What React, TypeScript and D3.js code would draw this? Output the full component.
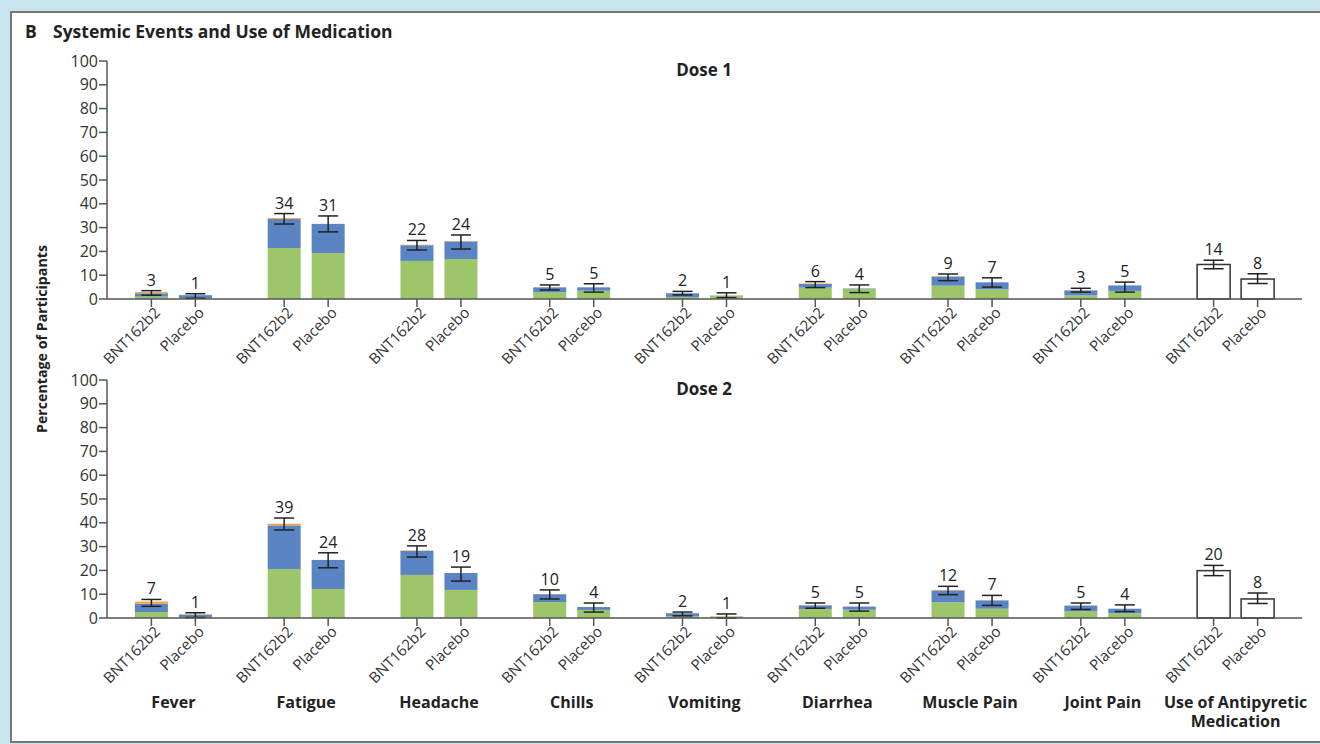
import React from "react";
import * as d3 from "d3";

const categories = ["Fever", "Fatigue", "Headache", "Chills", "Vomiting", "Diarrhea", "Muscle Pain", "Joint Pain", "Use of Antipyretic Medication"];
const arms = ["BNT162b2", "Placebo"];
const yTicks = [0, 10, 20, 30, 40, 50, 60, 70, 80, 90, 100];

// Dose 1 — symptom categories (first 8)
const d1BntMild = [1.0, 21.4, 16.0, 2.8, 0.8, 4.8, 5.6, 1.5];
const d1BntModerate = [1.4, 12.2, 6.6, 2.1, 1.6, 1.5, 3.8, 2.1];
const d1BntSevere = [0.5, 0.4, 0.2, 0.1, 0, 0.2, 0.2, 0.1];
const d1BntLow = [1.6, 31.5, 20.6, 3.8, 1.7, 4.8, 7.7, 2.9];
const d1BntHigh = [3.5, 35.9, 24.6, 5.9, 3.2, 7.3, 10.5, 4.5];
const d1BntLabel = [3, 34, 22, 5, 2, 6, 9, 3];

const d1PlaMild = [0.3, 19.3, 16.8, 3.5, 1.4, 4.2, 4.1, 3.4];
const d1PlaModerate = [1.3, 12.2, 7.4, 1.4, 0.1, 0.2, 2.9, 2.3];
const d1PlaSevere = [0, 0.1, 0.2, 0, 0, 0, 0, 0];
const d1PlaLow = [0.3, 28.2, 21.0, 2.9, 0.6, 2.7, 5.0, 2.9];
const d1PlaHigh = [2.2, 34.9, 26.9, 6.4, 2.6, 5.9, 8.9, 7.1];
const d1PlaLabel = [1, 31, 24, 5, 1, 4, 7, 5];

// Dose 2
const d2BntMild = [2.5, 20.6, 18.1, 6.7, 0.7, 3.8, 6.6, 2.8];
const d2BntModerate = [3.5, 18.3, 10.1, 3.3, 1.3, 1.5, 5.0, 2.4];
const d2BntSevere = [0.9, 0.7, 0.2, 0.1, 0, 0.1, 0.2, 0.1];
const d2BntLow = [4.9, 37.0, 25.6, 8.0, 0.9, 4.1, 9.8, 3.6];
const d2BntHigh = [7.8, 42.0, 30.3, 11.8, 2.5, 6.3, 13.3, 6.3];
const d2BntLabel = [7, 39, 28, 10, 2, 5, 12, 5];

const d2PlaMild = [0.3, 12.2, 11.8, 3.4, 0.7, 3.5, 3.9, 2.0];
const d2PlaModerate = [1.1, 12.2, 7.1, 1.2, 0, 1.3, 3.5, 1.9];
const d2PlaSevere = [0.2, 0, 0, 0, 0, 0, 0, 0];
const d2PlaLow = [0.2, 21.1, 15.5, 2.5, 0, 2.9, 5.3, 2.7];
const d2PlaHigh = [2.2, 27.4, 21.4, 6.3, 1.7, 6.3, 9.5, 5.5];
const d2PlaLabel = [1, 24, 19, 4, 1, 5, 7, 4];

// Use of antipyretic medication [BNT162b2, Placebo]
const d1Antipyretic = [14.5, 8.4];
const d1AntipyreticLow = [12.7, 6.5];
const d1AntipyreticHigh = [16.3, 10.6];
const d1AntipyreticLabel = [14, 8];
const d2Antipyretic = [19.9, 8.0];
const d2AntipyreticLow = [17.8, 6.1];
const d2AntipyreticHigh = [22.1, 10.5];
const d2AntipyreticLabel = [20, 8];

const COLORS = { mild: "#9dc56a", moderate: "#5a84c3", severe: "#f2a43e" };
const FONT = "'Open Sans', 'DejaVu Sans', sans-serif";

type Arm = { mild: number[]; moderate: number[]; severe: number[]; low: number[]; high: number[]; label: number[] };

const doses = [
  {
    title: "Dose 1",
    top: 61,
    bottom: 299,
    arms: [
      { mild: d1BntMild, moderate: d1BntModerate, severe: d1BntSevere, low: d1BntLow, high: d1BntHigh, label: d1BntLabel },
      { mild: d1PlaMild, moderate: d1PlaModerate, severe: d1PlaSevere, low: d1PlaLow, high: d1PlaHigh, label: d1PlaLabel },
    ] as Arm[],
    anti: d1Antipyretic,
    antiLow: d1AntipyreticLow,
    antiHigh: d1AntipyreticHigh,
    antiLabel: d1AntipyreticLabel,
  },
  {
    title: "Dose 2",
    top: 380,
    bottom: 618,
    arms: [
      { mild: d2BntMild, moderate: d2BntModerate, severe: d2BntSevere, low: d2BntLow, high: d2BntHigh, label: d2BntLabel },
      { mild: d2PlaMild, moderate: d2PlaModerate, severe: d2PlaSevere, low: d2PlaLow, high: d2PlaHigh, label: d2PlaLabel },
    ] as Arm[],
    anti: d2Antipyretic,
    antiLow: d2AntipyreticLow,
    antiHigh: d2AntipyreticHigh,
    antiLabel: d2AntipyreticLabel,
  },
];

const W = 1320;
const H = 744;
const X0 = 107;
const X1 = 1302;
const BAR_W = 33;
const ARM_OFFSET = 22;

export default function App() {
  const x = d3.scaleBand<string>().domain(categories).range([X0, X1]);
  const armX = (ci: number, ai: number) => (x(categories[ci]) as number) + x.bandwidth() / 2 + (ai === 0 ? -ARM_OFFSET : ARM_OFFSET);
  const stackKeys: ("mild" | "moderate" | "severe")[] = ["mild", "moderate", "severe"];

  return (
    <svg width={W} height={H} style={{ position: "absolute", left: 0, top: 0, fontFamily: FONT }}>
      <rect x={0} y={0} width={W} height={H} fill="#c8e4ed" />
      <rect x={11} y={12} width={W} height={730} fill="#ffffff" />
      <line x1={10} x2={W} y1={12} y2={12} stroke="#777" strokeWidth={2} />
      <line x1={11} x2={11} y1={11} y2={743} stroke="#777" strokeWidth={2} />
      <line x1={10} x2={W} y1={742} y2={742} stroke="#777" strokeWidth={2} />

      <text x={25} y={38} fontSize={17.5} fontWeight={700} fill="#222">B</text>
      <text x={53} y={38} fontSize={17.5} fontWeight={700} fill="#222">Systemic Events and Use of Medication</text>

      <text transform="translate(47,339) rotate(-90)" textAnchor="middle" fontSize={14} fontWeight={700} fill="#222" textLength={188} lengthAdjust="spacingAndGlyphs">
        Percentage of Participants
      </text>

      {doses.map((dose, di) => {
        const y = d3.scaleLinear().domain([0, 100]).range([dose.bottom, dose.top]);
        return (
          <g key={di}>
            <text x={704} y={dose.top + 15} textAnchor="middle" fontSize={17} fontWeight={700} fill="#222">{dose.title}</text>
            {/* y axis */}
            <line x1={X0} x2={X0} y1={y(100)} y2={y(0)} stroke="#555" strokeWidth={1.5} />
            {yTicks.map((t) => (
              <g key={t}>
                <line x1={X0 - 8} x2={X0} y1={y(t)} y2={y(t)} stroke="#555" strokeWidth={1.5} />
                <text x={X0 - 9} y={y(t)} dy="0.35em" textAnchor="end" fontSize={16} fill="#333">{t}</text>
              </g>
            ))}
            {/* bars */}
            {categories.map((c, ci) =>
              arms.map((a, ai) => {
                const cx = armX(ci, ai);
                let total: number, low: number, high: number, label: number;
                const rects: React.ReactNode[] = [];
                if (ci < 8) {
                  const arm = dose.arms[ai];
                  let acc = 0;
                  stackKeys.forEach((k) => {
                    const v = arm[k][ci];
                    if (v > 0) {
                      rects.push(
                        <rect key={k} x={cx - BAR_W / 2} y={y(acc + v)} width={BAR_W} height={y(acc) - y(acc + v)} fill={COLORS[k]} />
                      );
                    }
                    acc += v;
                  });
                  total = acc;
                  low = arm.low[ci];
                  high = arm.high[ci];
                  label = arm.label[ci];
                } else {
                  total = dose.anti[ai];
                  low = dose.antiLow[ai];
                  high = dose.antiHigh[ai];
                  label = dose.antiLabel[ai];
                  rects.push(
                    <rect key="anti" x={cx - BAR_W / 2} y={y(total)} width={BAR_W} height={y(0) - y(total)} fill="#fff" stroke="#333" strokeWidth={1.5} />
                  );
                }
                return (
                  <g key={c + a}>
                    {rects}
                    <line x1={cx} x2={cx} y1={y(low)} y2={y(high)} stroke="#222" strokeWidth={1.5} />
                    <line x1={cx - 10} x2={cx + 10} y1={y(low)} y2={y(low)} stroke="#222" strokeWidth={1.5} />
                    <line x1={cx - 10} x2={cx + 10} y1={y(high)} y2={y(high)} stroke="#222" strokeWidth={1.5} />
                    <text x={cx} y={y(high) - 5} textAnchor="middle" fontSize={16} fill="#222">{label}</text>
                    <line x1={cx} x2={cx} y1={y(0)} y2={y(0) + 8} stroke="#555" strokeWidth={1.5} />
                    <text
                      transform={`translate(${cx + 6},${y(0) + 11}) rotate(-45)`}
                      textAnchor="end"
                      dy="0.35em"
                      fontSize={15}
                      fill="#333"
                    >
                      {a}
                    </text>
                  </g>
                );
              })
            )}
            {/* x axis */}
            <line x1={X0} x2={X1} y1={y(0)} y2={y(0)} stroke="#555" strokeWidth={1.5} />
          </g>
        );
      })}

      {categories.map((c) => {
        const cx = (x(c) as number) + x.bandwidth() / 2;
        if (c === "Use of Antipyretic Medication") {
          return (
            <text key={c} textAnchor="middle" fontSize={16} fontWeight={700} fill="#222">
              <tspan x={cx} y={708}>Use of Antipyretic</tspan>
              <tspan x={cx} y={727}>Medication</tspan>
            </text>
          );
        }
        return (
          <text key={c} x={cx} y={708} textAnchor="middle" fontSize={16} fontWeight={700} fill="#222">{c}</text>
        );
      })}
    </svg>
  );
}
